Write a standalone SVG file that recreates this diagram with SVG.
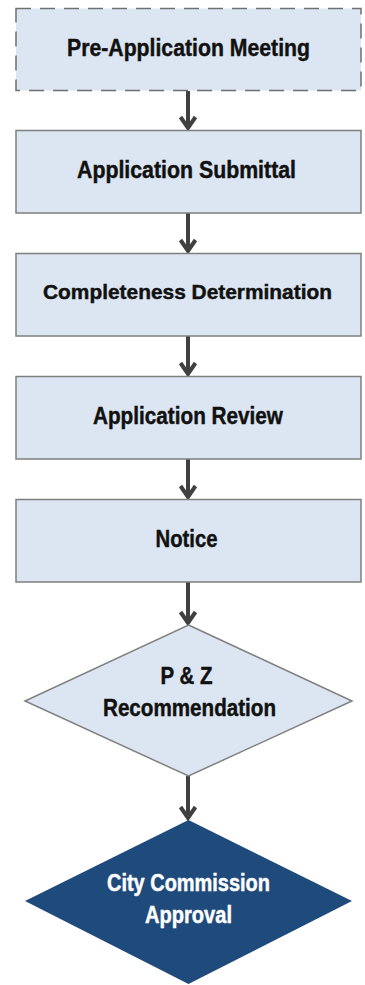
<svg xmlns="http://www.w3.org/2000/svg" width="365" height="985" viewBox="0 0 365 985">
<style>
.box{fill:#dce6f2;stroke:#7f7f7f;stroke-width:1.5}
.dash{stroke:#6f6f6f;stroke-dasharray:15 9}
.dark{fill:#1f4a7c;stroke:none}
.t{font-family:"Liberation Sans Narrow","Liberation Sans",Arial,sans-serif;font-weight:bold;font-size:24.5px;fill:#111;stroke:#111;stroke-width:0.45;text-anchor:middle}
.w{fill:#ffffff;stroke:#ffffff}
.c{fill:none;stroke:#404040;stroke-width:4}
</style>
<rect width="365" height="985" fill="#ffffff"/>
<g id="connectors">
<path class="c" d="M188,91 V128 M180.5,117 L188,128 L195.5,117"/>
<path class="c" d="M188,213 V251 M180.5,240 L188,251 L195.5,240"/>
<path class="c" d="M188,336 V374 M180.5,363 L188,374 L195.5,363"/>
<path class="c" d="M188,459 V497 M180.5,486 L188,497 L195.5,486"/>
<path class="c" d="M188,582 V623 M180.5,612 L188,623 L195.5,612"/>
<path class="c" d="M188,776 V818 M180.5,807 L188,818 L195.5,807"/>
</g>
<g id="n1">
<rect class="box dash" x="16" y="8.5" width="345" height="82"/>
<text class="t" x="188.5" y="56" textLength="243" lengthAdjust="spacingAndGlyphs">Pre-Application Meeting</text>
</g>
<g id="n2">
<rect class="box" x="16" y="130.5" width="345" height="82.5"/>
<text class="t" x="186.5" y="177.5" textLength="219" lengthAdjust="spacingAndGlyphs">Application Submittal</text>
</g>
<g id="n3">
<rect class="box" x="16" y="253.5" width="345" height="82.5"/>
<text class="t" x="187.5" y="299" style="font-size:20.5px" textLength="289" lengthAdjust="spacingAndGlyphs">Completeness Determination</text>
</g>
<g id="n4">
<rect class="box" x="16" y="376.5" width="345" height="82.5"/>
<text class="t" x="188" y="424" textLength="190" lengthAdjust="spacingAndGlyphs">Application Review</text>
</g>
<g id="n5">
<rect class="box" x="16" y="499.5" width="345" height="82.5"/>
<text class="t" x="186.5" y="546.5" textLength="62" lengthAdjust="spacingAndGlyphs">Notice</text>
</g>
<g id="n6">
<polygon class="box" points="188.5,625 352,701 188.5,776 25,701"/>
<text class="t" x="186.5" y="684" style="font-size:23px" textLength="52" lengthAdjust="spacingAndGlyphs">P &amp; Z</text>
<text class="t" x="189.5" y="715.5" style="font-size:23px" textLength="173" lengthAdjust="spacingAndGlyphs">Recommendation</text>
</g>
<g id="n7">
<polygon class="dark" points="188.5,820 352,901 188.5,984 25,901"/>
<text class="t w" x="188.5" y="891" style="font-size:23px" textLength="163" lengthAdjust="spacingAndGlyphs">City Commission</text>
<text class="t w" x="188.5" y="923" style="font-size:23px" textLength="87" lengthAdjust="spacingAndGlyphs">Approval</text>
</g>
</svg>
